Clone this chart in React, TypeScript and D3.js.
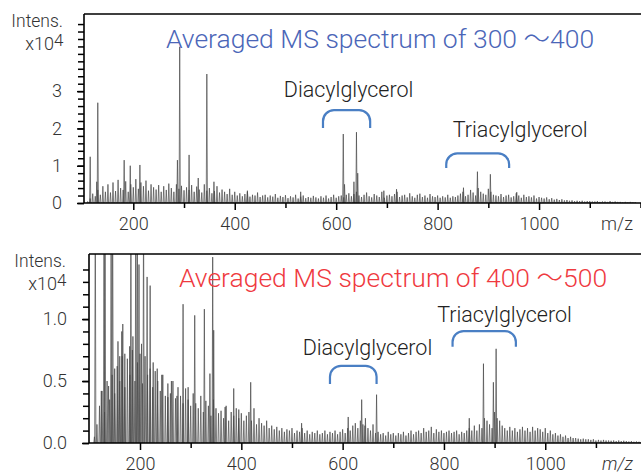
import React, { useRef, useEffect } from 'react';
import * as d3 from 'd3';

// background "grass" of the spectra, one value every 5 m/z from 110 (x10^4)
const noiseStart = 110;
const noiseStep = 5;

const topNoise = [
  0.04, 0.12, 0.25, 0.18, 0.35, 0.22, 0.45, 0.3, 0.5, 0.28,
  0.55, 0.32, 0.62, 0.4, 0.35, 0.58, 0.3, 0.5, 0.42, 0.64,
  0.38, 0.55, 0.45, 0.6, 0.33, 0.5, 0.42, 0.36, 0.48, 0.3,
  0.45, 0.35, 0.52, 0.4, 0.3, 0.5, 0.38, 0.46, 0.34, 0.42,
  0.35, 0.48, 0.3, 0.44, 0.36, 0.28, 0.5, 0.33, 0.4, 0.26,
  0.32, 0.45, 0.28, 0.36, 0.3, 0.24, 0.38, 0.22, 0.3, 0.2,
  0.26, 0.18, 0.24, 0.3, 0.17, 0.22, 0.2, 0.28, 0.16, 0.2,
  0.22, 0.15, 0.2, 0.17, 0.24, 0.14, 0.19, 0.16, 0.21, 0.13,
  0.18, 0.15, 0.22, 0.12, 0.17, 0.2, 0.13, 0.16, 0.14, 0.19,
  0.15, 0.12, 0.18, 0.14, 0.2, 0.12, 0.16, 0.22, 0.14, 0.18,
  0.2, 0.15, 0.22, 0.26, 0.18, 0.24, 0.3, 0.2, 0.16, 0.22,
  0.28, 0.18, 0.15, 0.24, 0.2, 0.16, 0.3, 0.14, 0.2, 0.22,
  0.18, 0.24, 0.3, 0.16, 0.2, 0.22, 0.15, 0.26, 0.18, 0.14,
  0.22, 0.25, 0.16, 0.2, 0.14, 0.24, 0.18, 0.16, 0.2, 0.14,
  0.18, 0.15, 0.22, 0.14, 0.18, 0.16, 0.2, 0.25, 0.3, 0.18,
  0.22, 0.35, 0.28, 0.2, 0.4, 0.3, 0.25, 0.22, 0.38, 0.3,
  0.22, 0.2, 0.18, 0.24, 0.16, 0.2, 0.22, 0.15, 0.18, 0.26,
  0.2, 0.14, 0.22, 0.16, 0.18, 0.15, 0.2, 0.12, 0.16, 0.14,
  0.12, 0.15, 0.1, 0.13, 0.09, 0.11, 0.08, 0.1, 0.07, 0.08,
  0.06, 0.07, 0.05, 0.06, 0.05, 0.06, 0.04, 0.05, 0.05, 0.04,
  0.04, 0.05, 0.03, 0.04, 0.04, 0.03, 0.05, 0.03, 0.04, 0.03,
  0.03, 0.02, 0.03, 0.02, 0.03, 0.02, 0.02,
];

const bottomNoise = [
  0.05, 0.15, 0.3, 0.42, 0.25, 0.5, 0.35, 0.55, 0.4, 0.62,
  0.5, 0.7, 0.45, 0.68, 0.55, 0.75, 0.5, 0.65, 0.72, 0.48,
  0.7, 0.55, 0.6, 0.45, 0.58, 0.5, 0.42, 0.55, 0.38, 0.48,
  0.4, 0.5, 0.36, 0.45, 0.38, 0.32, 0.44, 0.35, 0.3, 0.4,
  0.32, 0.28, 0.38, 0.25, 0.34, 0.3, 0.22, 0.35, 0.28, 0.24,
  0.26, 0.2, 0.3, 0.18, 0.25, 0.22, 0.28, 0.2, 0.24, 0.18,
  0.22, 0.25, 0.18, 0.28, 0.15, 0.2, 0.16, 0.14, 0.18, 0.12,
  0.14, 0.11, 0.13, 0.1, 0.12, 0.09, 0.11, 0.1, 0.12, 0.08,
  0.1, 0.09, 0.12, 0.08, 0.1, 0.07, 0.09, 0.08, 0.1, 0.07,
  0.08, 0.1, 0.07, 0.09, 0.08, 0.1, 0.07, 0.09, 0.11, 0.08,
  0.12, 0.1, 0.14, 0.16, 0.12, 0.18, 0.15, 0.2, 0.12, 0.1,
  0.15, 0.08, 0.09, 0.07, 0.08, 0.06, 0.09, 0.07, 0.08, 0.06,
  0.08, 0.07, 0.09, 0.06, 0.08, 0.1, 0.07, 0.09, 0.1, 0.08,
  0.12, 0.09, 0.1, 0.13, 0.08, 0.11, 0.09, 0.1, 0.08, 0.09,
  0.1, 0.08, 0.09, 0.1, 0.07, 0.09, 0.08, 0.1, 0.12, 0.1,
  0.14, 0.1, 0.15, 0.12, 0.2, 0.18, 0.15, 0.12, 0.25, 0.2,
  0.18, 0.14, 0.12, 0.1, 0.13, 0.1, 0.12, 0.09, 0.11, 0.13,
  0.1, 0.12, 0.09, 0.13, 0.1, 0.12, 0.11, 0.09, 0.12, 0.08,
  0.1, 0.07, 0.08, 0.06, 0.07, 0.05, 0.06, 0.04, 0.05, 0.04,
  0.04, 0.035, 0.03, 0.035, 0.03, 0.03, 0.025, 0.03, 0.02, 0.025,
  0.02, 0.025, 0.02, 0.02, 0.018, 0.02, 0.015, 0.02, 0.015, 0.018,
  0.015, 0.012, 0.015, 0.01, 0.012, 0.01, 0.01,
];

// named peaks
const topPeakMz = [115, 128, 130, 182, 194, 213, 287, 291.5, 310, 328, 345, 359, 425, 530,
  614, 616.5, 635, 640, 642.5, 694, 719, 851, 878.5, 904, 956];
const topPeakInt = [1.24, 0.57, 2.69, 1.15, 1.0, 1.02, 1.15, 4.19, 1.29, 0.67, 3.46, 0.57, 0.33, 0.3,
  1.85, 0.5, 0.57, 1.9, 0.8, 0.33, 0.37, 0.41, 0.84, 0.77, 0.29];

const bottomPeakMz = [111.7, 123.6, 129, 131, 138, 143, 146, 150, 156.5, 160, 164, 166, 170, 179.6,
  182, 186, 191.6, 194.7, 198, 203, 207, 214, 220, 226, 234, 243, 255, 262, 273, 285, 295,
  308, 327, 338, 343.5, 345.5, 368, 385, 395, 418.5, 519, 611, 637.6, 644, 667,
  850, 878, 897.6, 903];
const bottomPeakInt = [2, 0.42, 2, 2, 0.46, 2, 2, 0.6, 0.82, 0.7, 0.9, 0.96, 0.72, 0.78,
  2, 0.86, 2, 2, 1.44, 0.8, 2, 1.34, 1.27, 0.65, 0.6, 0.55, 0.37, 0.5, 0.38, 1.12, 0.45,
  1.03, 1.08, 0.56, 1.5, 0.91, 0.29, 0.44, 0.27, 0.49, 0.16, 0.21, 0.35, 0.14, 0.39,
  0.2, 0.64, 0.49, 0.76];

const xMajorTicks = [200, 400, 600, 800, 1000];
const xMinorTicks = [300, 500, 700, 900, 1100];
const topYLabels = [0, 1, 2, 3];
const bottomYLabels = [0, 0.5, 1.0];

const FONT = "Roboto, 'Noto Sans', 'Noto Sans CJK JP', sans-serif";
const TICK_FONT = '18px';

const Panel = ({ cfg }) => {
  const gRef = useRef();

  useEffect(() => {
    const g = d3.select(gRef.current);
    g.selectAll('*').remove();
    const { left, top, bottom, right } = cfg.box;

    const x = d3.scaleLinear().domain(cfg.xDomain).range([left, right]);
    const y = d3.scaleLinear().domain([0, cfg.yMax]).range([bottom, top]);

    // spectrum profile: each peak rises from the baseline and returns to it
    const peaks = cfg.noise
      .map((h, i) => ({ mz: noiseStart + i * noiseStep, h }))
      .concat(cfg.peakMz.map((m, i) => ({ mz: m, h: cfg.peakInt[i] })))
      .sort((a, b) => a.mz - b.mz);
    const pts = [];
    peaks.forEach(p => {
      pts.push([p.mz - 1.2, 0], [p.mz, p.h], [p.mz + 1.2, 0]);
    });

    const clipId = `clip-${cfg.id}`;
    g.append('clipPath').attr('id', clipId)
      .append('rect')
      .attr('x', left).attr('y', top)
      .attr('width', right - left).attr('height', bottom - top);

    const line = d3.line().x(d => x(d[0])).y(d => y(d[1]));
    g.append('path')
      .datum(pts)
      .attr('clip-path', `url(#${clipId})`)
      .attr('fill', 'none')
      .attr('stroke', '#484848')
      .attr('stroke-width', 0.7)
      .attr('d', line);

    // x axis
    g.append('g')
      .attr('transform', `translate(0,${bottom})`)
      .call(d3.axisBottom(x).tickValues(xMajorTicks).tickSize(7).tickPadding(cfg.xPad)
        .tickFormat(d3.format('d')))
      .call(a => a.select('.domain').remove())
      .call(a => a.selectAll('line').attr('stroke', '#000').attr('stroke-width', 1.5))
      .call(a => a.selectAll('text').attr('fill', '#333').style('font-size', TICK_FONT)
        .style('font-family', FONT).style('font-weight', 300));
    g.append('g')
      .attr('transform', `translate(0,${bottom})`)
      .call(d3.axisBottom(x).tickValues(cfg.xMinor).tickSize(5).tickFormat(() => ''))
      .call(a => a.select('.domain').remove())
      .call(a => a.selectAll('line').attr('stroke', '#000').attr('stroke-width', 1.5));

    // y axis
    const yTicks = d3.range(0, cfg.yMinorMax + 1e-6, cfg.yMinorStep);
    g.append('g')
      .attr('transform', `translate(${left},0)`)
      .call(d3.axisLeft(y).tickValues(yTicks).tickSize(6).tickFormat(() => ''))
      .call(a => a.select('.domain').remove())
      .call(a => a.selectAll('line').attr('stroke', '#000').attr('stroke-width', 1.5));
    g.append('g')
      .attr('transform', `translate(${left},0)`)
      .call(d3.axisLeft(y).tickValues(cfg.yLabels).tickSize(7).tickPadding(15)
        .tickFormat(d3.format(cfg.yFormat)))
      .call(a => a.select('.domain').remove())
      .call(a => a.selectAll('line').attr('stroke', '#000').attr('stroke-width', 1.5))
      .call(a => a.selectAll('text').attr('fill', '#333').style('font-size', TICK_FONT)
        .style('font-family', FONT).style('font-weight', 300));

    // frame: top, left, bottom
    g.append('path')
      .attr('d', `M${left},${top}H${right}M${left},${top}V${bottom}H${right}`)
      .attr('fill', 'none')
      .attr('stroke', '#000')
      .attr('stroke-width', 1.6);

    const txt = (s, tx, ty, size, anchor, color = '#333') =>
      g.append('text')
        .attr('x', tx).attr('y', ty)
        .attr('text-anchor', anchor)
        .attr('fill', color)
        .style('font-family', FONT)
        .style('font-weight', 300)
        .style('font-size', `${size}px`)
        .text(s);

    txt('Intens.', cfg.unitX, top + 13, 17.5, 'end');
    txt('x10', cfg.unitX - 9, top + 36, 18, 'end');
    txt('4', cfg.unitX - 9, top + 32, 17, 'start');
    txt('m/z', right - 8, bottom + 27, 18, 'end').style('font-style', cfg.mzItalic ? 'italic' : 'normal');

    txt(cfg.title, cfg.titleX, cfg.titleY, 26.5, 'middle', cfg.titleColor);

    // brackets with labels
    cfg.notes.forEach(n => {
      const x1 = x(n.mz0), x2 = x(n.mz1);
      const yt = y(n.yTop), ye = y(n.yEnd);
      const r = 11;
      const p = d3.path();
      p.moveTo(x1, ye);
      p.lineTo(x1, yt + r);
      p.arcTo(x1, yt, x1 + r, yt, r);
      p.lineTo(x2 - r, yt);
      p.arcTo(x2, yt, x2, yt + r, r);
      p.lineTo(x2, ye);
      g.append('path')
        .attr('d', p.toString())
        .attr('fill', 'none')
        .attr('stroke', '#4a7fc4')
        .attr('stroke-width', 2.2);
      txt(n.label, x(n.textMz), y(n.textY), 21.5, 'middle', '#222');
    });
  }, [cfg]);

  return <g ref={gRef} />;
};

const topCfg = {
  id: 'top',
  box: { left: 84, top: 14, bottom: 203, right: 641 },
  xDomain: [102.8, 1201],
  xMinor: xMinorTicks.concat([1200]),
  xPad: 7,
  yMax: 5.07,
  yLabels: topYLabels,
  yFormat: 'd',
  yMinorStep: 0.2,
  yMinorMax: 4.8,
  noise: topNoise,
  peakMz: topPeakMz,
  peakInt: topPeakInt,
  unitX: 63,
  mzItalic: false,
  title: 'Averaged MS spectrum of 300 ～400',
  titleColor: '#4b66b8',
  titleX: 380,
  titleY: 48,
  notes: [
    { label: 'Diacylglycerol', mz0: 574, mz1: 667, yTop: 2.49, yEnd: 2.01, textMz: 624.5, textY: 2.84 },
    { label: 'Triacylglycerol', mz0: 817, mz1: 941, yTop: 1.33, yEnd: 0.94, textMz: 962.7, textY: 1.77 },
  ],
};

const bottomCfg = {
  id: 'bottom',
  box: { left: 89, top: 254, bottom: 443, right: 641 },
  xDomain: [99.3, 1189],
  xMinor: xMinorTicks,
  xPad: 7,
  yMax: 1.525,
  yLabels: bottomYLabels,
  yFormat: '.1f',
  yMinorStep: 0.1,
  yMinorMax: 1.4,
  noise: bottomNoise,
  peakMz: bottomPeakMz,
  peakInt: bottomPeakInt,
  unitX: 66,
  mzItalic: true,
  title: 'Averaged MS spectrum of 400 ～500',
  titleColor: '#ef3a3f',
  titleX: 393,
  titleY: 287,
  notes: [
    { label: 'Diacylglycerol', mz0: 575, mz1: 667, yTop: 0.623, yEnd: 0.476, textMz: 649, textY: 0.71 },
    { label: 'Triacylglycerol', mz0: 817, mz1: 942, yTop: 0.903, yEnd: 0.777, textMz: 919.6, textY: 0.978 },
  ],
};

export default function App() {
  return (
    <div style={{ position: 'absolute', left: 0, top: 0, width: 641, height: 474, background: '#fff' }}>
      <svg width={641} height={474} style={{ display: 'block' }}>
        <Panel cfg={topCfg} />
        <Panel cfg={bottomCfg} />
      </svg>
    </div>
  );
}
